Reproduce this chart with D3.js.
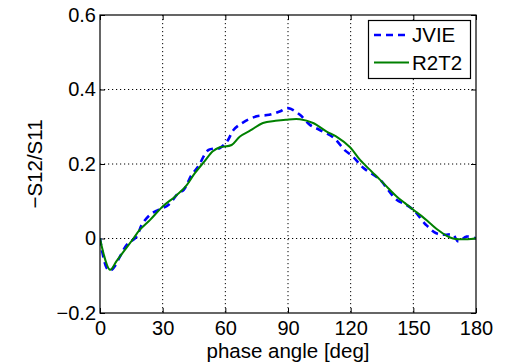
<!DOCTYPE html>
<html><head><meta charset="utf-8">
<script src="https://cdn.jsdelivr.net/npm/d3@7"></script>
<style>body{margin:0;background:#fff}text{font-family:"Liberation Sans",Arial,Helvetica,sans-serif}</style>
</head><body><svg id="c" width="513" height="364"></svg>
<script>
const xTicks = [0, 30, 60, 90, 120, 150, 180];
const yTicks = [-0.2, 0, 0.2, 0.4, 0.6];
const seriesNames = ["JVIE", "R2T2"];
const jvieAngle = [0,3.2,5,7,9.6,12.8,17.5,20,24,28,32.7,37.5,40,43.9,47,52,57.4,61,64,68.6,75,81,86,90,95.7,100.5,105,112,117,121,126,134,138,142,146,150,156,161,165,169,171.5,175.5,180];
const jvieValue = [0,-0.079,-0.086,-0.075,-0.048,-0.017,0.005,0.037,0.064,0.077,0.09,0.122,0.13,0.171,0.193,0.238,0.243,0.262,0.292,0.312,0.328,0.332,0.341,0.35,0.332,0.305,0.292,0.27,0.238,0.22,0.19,0.158,0.13,0.104,0.092,0.077,0.037,0.014,0.01,0.01,-0.008,0.005,0.0];
const r2t2Angle = [0,4.8,8,12,16,19,24,30,36,41,45.5,50,54,57.4,63,67,72,78,84,89,95.7,102,108.5,113,119.7,124.5,130,134,138,142,146,150,154,158,162,166,169,172.3,176,180];
const r2t2Value = [0,-0.084,-0.06,-0.03,0.0,0.023,0.05,0.086,0.113,0.14,0.176,0.207,0.234,0.245,0.251,0.274,0.29,0.31,0.316,0.319,0.32,0.31,0.287,0.274,0.245,0.211,0.18,0.158,0.135,0.113,0.095,0.077,0.06,0.041,0.022,0.007,0.0,-0.002,-0.002,0.001];

const FS = 20;
const svg = d3.select("#c");
const L=100, R=476, T=15, B=313;
const x = d3.scaleLinear().domain([0,180]).range([L,R]);
const y = d3.scaleLinear().domain([-0.2,0.6]).range([B,T]);
const fmtY = d => d===0 ? "0" : (d<0 ? "\u2212"+Math.abs(d).toFixed(1) : d.toFixed(1));

// grid
const g = svg.append("g");
g.selectAll(".vg").data(xTicks.filter(d=>d>0&&d<180)).join("line")
  .attr("x1",d=>x(d)).attr("x2",d=>x(d)).attr("y1",T).attr("y2",B)
  .attr("stroke","#000").attr("stroke-width",1).attr("stroke-dasharray","1.2,2.8");
g.selectAll(".hg").data(yTicks.filter(d=>d>-0.2&&d<0.6)).join("line")
  .attr("x1",L).attr("x2",R).attr("y1",d=>y(d)).attr("y2",d=>y(d))
  .attr("stroke","#000").attr("stroke-width",1).attr("stroke-dasharray","1.2,2.8");

// axes
const ax = svg.append("g").attr("transform",`translate(0,${B})`)
  .call(d3.axisBottom(x).tickValues(xTicks).tickSizeInner(-5).tickSizeOuter(0).tickPadding(8).tickFormat(d3.format("d")));
const ay = svg.append("g").attr("transform",`translate(${L},0)`)
  .call(d3.axisLeft(y).tickValues(yTicks).tickSizeInner(-5).tickSizeOuter(0).tickPadding(4).tickFormat(fmtY));
const axT = svg.append("g").attr("transform",`translate(0,${T})`)
  .call(d3.axisTop(x).tickValues(xTicks).tickSizeInner(-5).tickSizeOuter(0).tickFormat(""));
const ayR = svg.append("g").attr("transform",`translate(${R},0)`)
  .call(d3.axisRight(y).tickValues(yTicks).tickSizeInner(-5).tickSizeOuter(0).tickFormat(""));
[ax,ay,axT,ayR].forEach(a=>{a.select(".domain").remove(); a.selectAll("line").attr("stroke","#000");
  a.selectAll("text").attr("font-size",FS).attr("fill","#000").attr("font-family","Liberation Sans, Arial, sans-serif");});

// lines
const lineGen = d3.line().x(d=>x(d[0])).y(d=>y(d[1])).curve(d3.curveCatmullRom.alpha(0.5));
const jvie = jvieAngle.map((a,i)=>[a,jvieValue[i]]);
const r2t2 = r2t2Angle.map((a,i)=>[a,r2t2Value[i]]);
svg.append("clipPath").attr("id","cp").append("rect").attr("x",L).attr("y",T).attr("width",R-L).attr("height",B-T);
svg.append("path").datum(jvie).attr("d",lineGen).attr("fill","none").attr("stroke","#0000ff")
  .attr("stroke-width",2.6).attr("stroke-dasharray","7,5").attr("clip-path","url(#cp)");
svg.append("path").datum(r2t2).attr("d",lineGen).attr("fill","none").attr("stroke","#008000")
  .attr("stroke-width",2).attr("clip-path","url(#cp)");

// box
svg.append("rect").attr("x",L).attr("y",T).attr("width",R-L).attr("height",B-T)
  .attr("fill","none").attr("stroke","#000").attr("stroke-width",1.2);

// labels
svg.append("text").attr("x",(L+R)/2).attr("y",358).attr("text-anchor","middle").attr("font-size",FS+0.5).text("phase angle [deg]");
svg.append("text").attr("transform",`translate(42,${(T+B)/2}) rotate(-90)`).attr("text-anchor","middle").attr("font-size",FS+0.5).text("\u2212S12/S11");

// legend
const lg = svg.append("g");
lg.append("rect").attr("x",368.5).attr("y",20.5).attr("width",102).attr("height",58)
  .attr("fill","#fff").attr("stroke","#000").attr("stroke-width",1.2);
const styles = [{c:"#0000ff",w:2.6,da:"7,5"},{c:"#008000",w:2,da:null}];
seriesNames.forEach((n,i)=>{
  const yy = 35 + i*27.5;
  lg.append("line").attr("x1",374).attr("x2",409).attr("y1",yy).attr("y2",yy)
    .attr("stroke",styles[i].c).attr("stroke-width",styles[i].w).attr("stroke-dasharray",styles[i].da);
  lg.append("text").attr("x",412).attr("y",yy).attr("dy","0.36em").attr("font-size",FS+0.5).text(n);
});
</script></body></html>
